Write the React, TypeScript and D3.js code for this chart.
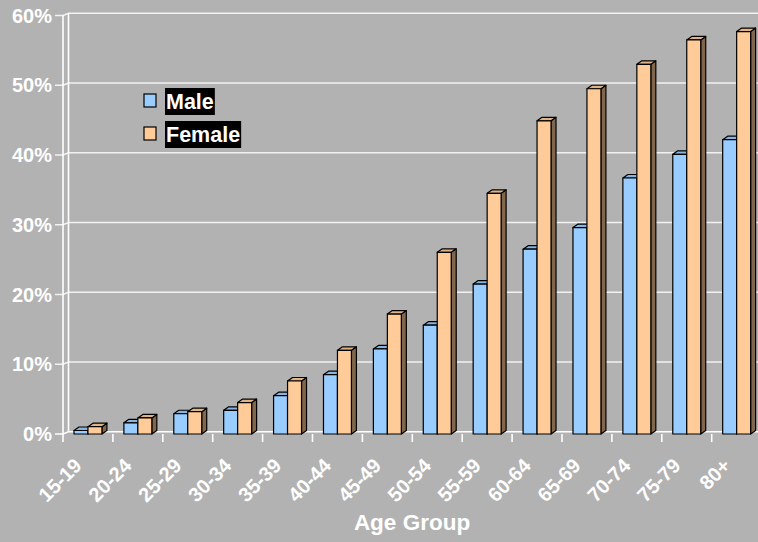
import React, { useEffect, useRef } from 'react';
import * as d3 from 'd3';

const categories = ['15-19', '20-24', '25-29', '30-34', '35-39', '40-44', '45-49', '50-54', '55-59', '60-64', '65-69', '70-74', '75-79', '80+'];
const maleValues = [0.5, 1.6, 2.9, 3.4, 5.5, 8.5, 12.2, 15.6, 21.5, 26.5, 29.6, 36.7, 40.1, 42.2];
const femaleValues = [1.05, 2.3, 3.2, 4.5, 7.6, 12.0, 17.2, 26.05, 34.5, 44.9, 49.5, 53.0, 56.5, 57.7];
const yTicks = [0, 10, 20, 30, 40, 50, 60];
const seriesNames = ['Male', 'Female'];
const seriesColors = ['#99CCFF', '#FFCC99'];

const W = 758;
const H = 542;
const FONT = '"Liberation Sans", Arial, sans-serif';

const App: React.FC = () => {
  const ref = useRef<SVGSVGElement | null>(null);

  useEffect(() => {
    document.body.style.margin = '0';
    if (!ref.current) return;
    const svg = d3.select(ref.current);
    svg.selectAll('*').remove();

    const x0 = 63;
    const step = 49.9;
    const y = d3.scaleLinear().domain([0, 60]).range([434, 15.5]);
    const x = d3.scaleBand<string>().domain(categories).range([x0, x0 + step * categories.length]).padding(0);
    const wallDx = 5.5;
    const wallDy = -2.3;
    const barDx = 5;
    const barDy = -3.5;
    const barW = x.bandwidth() * 0.28;

    svg.append('rect').attr('width', W).attr('height', H).attr('fill', '#B2B2B2');

    // back wall gridlines and side-wall ticks
    yTicks.forEach(t => {
      const yy = y(t);
      svg.append('path')
        .attr('d', `M55,${yy}L${x0},${yy}L${x0 + wallDx},${yy + wallDy}L${W},${yy + wallDy}`)
        .attr('fill', 'none')
        .attr('stroke', t === 0 ? '#FFFFFF' : '#F2F2F2')
        .attr('stroke-width', 1.6);
      svg.append('text')
        .attr('x', 52)
        .attr('y', yy)
        .attr('dy', '0.36em')
        .attr('text-anchor', 'end')
        .attr('fill', '#FFFFFF')
        .attr('font-family', FONT)
        .attr('font-weight', 'bold')
        .attr('font-size', 20)
        .text(`${t}%`);
    });

    // walls
    svg.append('line').attr('x1', x0).attr('x2', x0).attr('y1', y(60)).attr('y2', 442)
      .attr('stroke', '#FFFFFF').attr('stroke-width', 1.6);
    svg.append('line').attr('x1', x0 + wallDx).attr('x2', x0 + wallDx).attr('y1', y(60) + wallDy).attr('y2', y(0) + wallDy)
      .attr('stroke', '#FFFFFF').attr('stroke-width', 1.6);

    // category ticks
    categories.forEach((c, i) => {
      if (i === 0) return;
      const xx = x(c)!;
      svg.append('line').attr('x1', xx).attr('x2', xx).attr('y1', 434).attr('y2', 442)
        .attr('stroke', '#FFFFFF').attr('stroke-width', 1.6);
    });

    // bars
    const base = y(0);
    const drawBar = (bx: number, v: number, color: string) => {
      const top = y(v);
      const c = d3.rgb(color);
      const topCol = c.darker(0.35).formatHex();
      const sideCol = d3.rgb(c.r * 0.5, c.g * 0.5, c.b * 0.5).formatHex();
      const g = svg.append('g').attr('stroke', '#000000').attr('stroke-width', 1.2).attr('stroke-linejoin', 'round');
      g.append('path')
        .attr('d', `M${bx + barW},${top}L${bx + barW + barDx},${top + barDy}L${bx + barW + barDx},${base + barDy}L${bx + barW},${base}Z`)
        .attr('fill', sideCol);
      g.append('path')
        .attr('d', `M${bx},${top}L${bx + barDx},${top + barDy}L${bx + barW + barDx},${top + barDy}L${bx + barW},${top}Z`)
        .attr('fill', topCol);
      g.append('rect')
        .attr('x', bx).attr('y', top).attr('width', barW).attr('height', base - top)
        .attr('fill', color);
    };
    categories.forEach((c, i) => {
      const center = x(c)! + x.bandwidth() / 2;
      drawBar(center - barW, maleValues[i], seriesColors[0]);
      drawBar(center, femaleValues[i], seriesColors[1]);
    });

    // category labels
    categories.forEach(c => {
      const cx = x(c)! + x.bandwidth() / 2 - 5;
      svg.append('text')
        .attr('transform', `translate(${cx},467) rotate(-45)`)
        .attr('text-anchor', 'end')
        .attr('fill', '#FFFFFF')
        .attr('font-family', FONT)
        .attr('font-weight', 'bold')
        .attr('font-size', 20)
        .text(c);
    });

    svg.append('text')
      .attr('x', 412)
      .attr('y', 530)
      .attr('text-anchor', 'middle')
      .attr('fill', '#FFFFFF')
      .attr('font-family', FONT)
      .attr('font-weight', 'bold')
      .attr('font-size', 22.5)
      .text('Age Group');

    // legend
    seriesNames.forEach((name, i) => {
      const ly = 101 + i * 33;
      svg.append('rect')
        .attr('x', 144).attr('y', ly - 7).attr('width', 12).attr('height', 13)
        .attr('fill', seriesColors[i]).attr('stroke', '#000000').attr('stroke-width', 1.2);
      const bg = svg.append('rect').attr('fill', '#000000');
      const txt = svg.append('text')
        .attr('x', 166)
        .attr('y', ly + 7.5)
        .attr('fill', '#FFFFFF')
        .attr('font-family', FONT)
        .attr('font-weight', 'bold')
        .attr('font-size', 21.5)
        .text(name);
      const bb = (txt.node() as SVGTextElement).getBBox();
      bg.attr('x', 165).attr('y', ly - 13).attr('width', bb.width + 2).attr('height', 27);
    });
  }, []);

  return <svg ref={ref} width={W} height={H} style={{ display: 'block' }} />;
};

export default App;
